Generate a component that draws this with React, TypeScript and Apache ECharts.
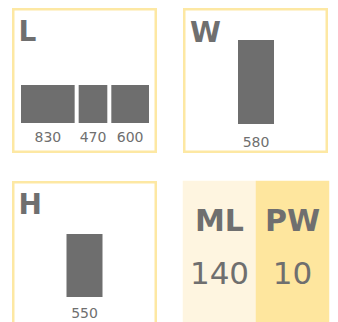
import React, { useEffect, useRef } from "react";
import * as echarts from "echarts";

// Dimension cards: length segments, width, height, and two KPI tiles.
const lengthValues = [830, 470, 600];
const widthValues = [580];
const heightValues = [550];
const kpiNames = ["ML", "PW"];
const kpiValues = [140, 10];
const panelTitles = ["L", "W", "H"];

const TEXT = "#6f6f6f";
const BAR = "#6e6e6e";
const BORDER = "#fde8a3";
const KPI_COLORS = ["#fef5e0", "#fee69e"];
const FONT = "DejaVu Sans";

const hiddenAxis = {
  show: false,
  axisLine: { show: false },
  axisTick: { show: false },
  axisLabel: { show: false },
  splitLine: { show: false },
};

export default function App() {
  const ref = useRef<HTMLDivElement>(null);

  useEffect(() => {
    if (!ref.current) return;
    const chart = echarts.init(ref.current, undefined, { renderer: "svg" });

    const valueLabel = (distance: number) => ({
      show: true,
      position: "bottom" as const,
      distance,
      color: TEXT,
      fontFamily: FONT,
      fontSize: 14,
    });

    const lengthSum = lengthValues.reduce((a, b) => a + b, 0);

    chart.setOption({
      animation: false,
      backgroundColor: "#ffffff",
      grid: [
        { left: 19, top: 83, width: 132, height: 42 },
        { left: 183, top: 40, width: 146, height: 84 },
        { left: 12, top: 234, width: 145, height: 63 },
        { left: 183, top: 181, width: 146, height: 145 },
      ],
      xAxis: [
        { ...hiddenAxis, type: "value", gridIndex: 0, min: 0, max: lengthSum },
        { ...hiddenAxis, type: "category", gridIndex: 1, data: ["W"] },
        { ...hiddenAxis, type: "category", gridIndex: 2, data: ["H"] },
        { ...hiddenAxis, type: "category", gridIndex: 3, data: kpiNames },
      ],
      yAxis: [
        { ...hiddenAxis, type: "category", gridIndex: 0, data: ["L"] },
        { ...hiddenAxis, type: "value", gridIndex: 1, min: 0, max: "dataMax" },
        { ...hiddenAxis, type: "value", gridIndex: 2, min: 0, max: "dataMax" },
        { ...hiddenAxis, type: "category", gridIndex: 3, data: [""] },
      ],
      visualMap: {
        show: false,
        type: "piecewise",
        seriesIndex: lengthValues.length + 2,
        dimension: 0,
        pieces: KPI_COLORS.map((color, i) => ({ value: i, color })),
      },
      series: [
        ...lengthValues.map((v, i) => ({
          type: "bar",
          name: `L${i}`,
          xAxisIndex: 0,
          yAxisIndex: 0,
          stack: "length",
          barWidth: 42,
          data: [v],
          itemStyle: { color: BAR, borderColor: "#ffffff", borderWidth: 2 },
          label: valueLabel(5),
        })),
        {
          type: "bar",
          xAxisIndex: 1,
          yAxisIndex: 1,
          barWidth: 36,
          data: widthValues,
          itemStyle: { color: BAR },
          label: valueLabel(11),
        },
        {
          type: "bar",
          xAxisIndex: 2,
          yAxisIndex: 2,
          barWidth: 36,
          data: heightValues,
          itemStyle: { color: BAR },
          label: valueLabel(8.5),
        },
        {
          type: "heatmap",
          xAxisIndex: 3,
          yAxisIndex: 3,
          data: kpiValues.map((v, i) => [i, 0, v]),
          emphasis: { disabled: true },
          label: {
            show: true,
            offset: [0, -5],
            formatter: (p: any) =>
              `{n|${kpiNames[p.value[0]]}}\n{v|${p.value[2]}}`,
            rich: {
              n: {
                fontFamily: FONT,
                fontWeight: "bold",
                fontSize: 30,
                color: TEXT,
                lineHeight: 53,
              },
              v: {
                fontFamily: FONT,
                fontSize: 31,
                color: TEXT,
                lineHeight: 53,
              },
            },
          },
        },
      ],
      graphic: [
        ...[
          [13.25, 9.25],
          [184.25, 9.25],
          [13.25, 182.25],
        ].map(([x, y]) => ({
          type: "rect",
          shape: { x, y, width: 142.5, height: 142.5 },
          style: { fill: "none", stroke: BORDER, lineWidth: 2.5 },
          z: 10,
        })),
        ...panelTitles.map((t, i) => ({
          type: "text",
          x: [18.5, 190, 18.5][i],
          y: [31.5, 32.5, 204][i],
          style: {
            text: t,
            font: `bold 28px "${FONT}"`,
            fill: TEXT,
            textVerticalAlign: "middle",
          },
          z: 10,
        })),
      ],
    });

    return () => chart.dispose();
  }, []);

  return (
    <div
      ref={ref}
      style={{ position: "fixed", left: 0, top: 0, width: 338, height: 322 }}
    />
  );
}
